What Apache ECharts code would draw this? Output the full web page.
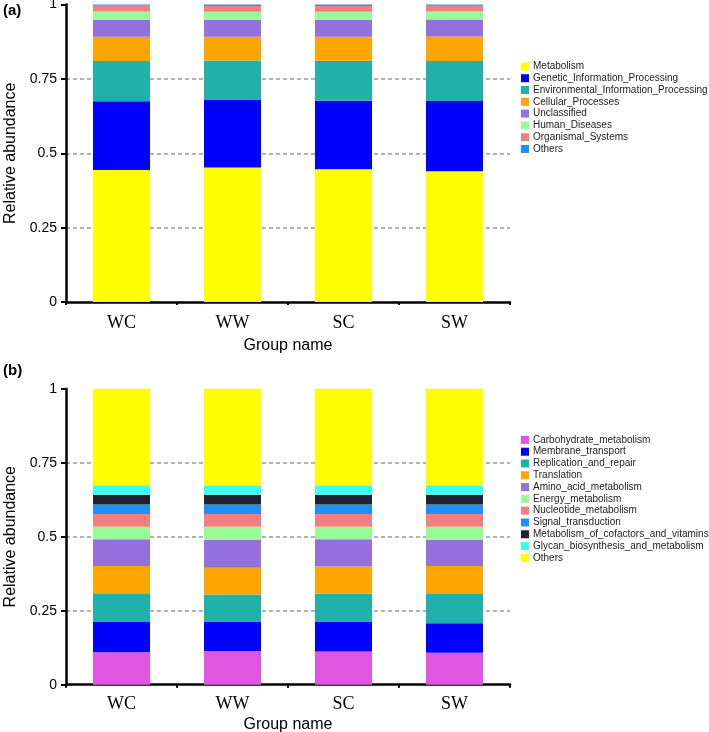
<!DOCTYPE html>
<html>
<head>
<meta charset="utf-8">
<script src="https://cdn.jsdelivr.net/npm/echarts@6/dist/echarts.min.js"></script>
<style>html,body{margin:0;padding:0;background:#fff;}#c{width:709px;height:732px;}</style>
</head>
<body>
<div id="c"></div>
<script>
// Categories (groups)
const groups = ['WC', 'WW', 'SC', 'SW'];

// Panel (a) level-1 categories (stack order bottom -> top)
const namesA = ['Metabolism', 'Genetic_Information_Processing', 'Environmental_Information_Processing',
  'Cellular_Processes', 'Unclassified', 'Human_Diseases', 'Organismal_Systems', 'Others'];
const colorsA = ['#FFFF00', '#0000FF', '#20B2AA', '#FFA500', '#9370DB', '#98FB98', '#F08080', '#1E90FF'];
const metabolism   = [0.444, 0.452, 0.446, 0.440];
const genetic      = [0.231, 0.227, 0.231, 0.236];
const environment  = [0.135, 0.133, 0.134, 0.134];
const cellular     = [0.082, 0.080, 0.081, 0.083];
const unclassified = [0.057, 0.057, 0.057, 0.057];
const human        = [0.028, 0.027, 0.027, 0.027];
const organismal   = [0.022, 0.019, 0.019, 0.019];
const othersA      = [0.001, 0.005, 0.005, 0.004];
const valuesA = [metabolism, genetic, environment, cellular, unclassified, human, organismal, othersA];

// Panel (b) level-2 categories (stack order bottom -> top)
const namesB = ['Carbohydrate_metabolism', 'Membrane_transport', 'Replication_and_repair', 'Translation',
  'Amino_acid_metabolism', 'Energy_metabolism', 'Nucleotide_metabolism', 'Signal_transduction',
  'Metabolism_of_cofactors_and_vitamins', 'Glycan_biosynthesis_and_metabolism', 'Others'];
const colorsB = ['#E056E0', '#0000FF', '#20B2AA', '#FFA500', '#9370DB', '#98FB98', '#F08080', '#1E90FF',
  '#22222E', '#3DFFEE', '#FFFF00'];
const carbohydrate = [0.110, 0.114, 0.112, 0.108];
const membrane     = [0.102, 0.098, 0.100, 0.100];
const replication  = [0.097, 0.093, 0.096, 0.098];
const translation  = [0.092, 0.090, 0.091, 0.095];
const aminoAcid    = [0.090, 0.095, 0.092, 0.089];
const energy       = [0.043, 0.044, 0.043, 0.044];
const nucleotide   = [0.043, 0.043, 0.043, 0.043];
const signal       = [0.032, 0.032, 0.032, 0.032];
const cofactors    = [0.033, 0.033, 0.033, 0.033];
const glycan       = [0.032, 0.032, 0.032, 0.032];
const othersB      = [0.326, 0.326, 0.326, 0.326];
const valuesB = [carbohydrate, membrane, replication, translation, aminoAcid, energy, nucleotide,
  signal, cofactors, glycan, othersB];

// Axis tick settings
const yMin = 0, yMax = 1, yInterval = 0.25;

const chart = echarts.init(document.getElementById('c'), null, {renderer: 'canvas'});

function makeY(gridIndex) {
  return {
    type: 'value', gridIndex: gridIndex, min: yMin, max: yMax, interval: yInterval,
    name: 'Relative abundance', nameLocation: 'middle', nameGap: 44,
    nameTextStyle: {fontFamily: 'Liberation Sans', fontSize: 16, color: '#000'},
    axisLine: {show: true, lineStyle: {color: '#000', width: 2.5}},
    axisTick: {show: true, length: 5, lineStyle: {color: '#000', width: 2}},
    axisLabel: {fontFamily: 'Liberation Sans', fontSize: 14, color: '#000', margin: 9},
    splitLine: {show: true, showMinLine: false, showMaxLine: false,
      lineStyle: {color: '#999', type: [4, 3], width: 1.5}}
  };
}
function makeX(gridIndex, gap, margin) {
  return {
    type: 'category', gridIndex: gridIndex, data: groups,
    name: 'Group name', nameLocation: 'middle', nameGap: gap,
    nameTextStyle: {fontFamily: 'Liberation Sans', fontSize: 16, color: '#000'},
    axisLine: {show: true, lineStyle: {color: '#000', width: 2.5}},
    axisTick: {show: true, length: 3, lineStyle: {color: '#000', width: 2}},
    axisLabel: {fontFamily: 'Liberation Serif', fontSize: 18, color: '#000', margin: margin},
    splitLine: {show: false}
  };
}

const series = [];
namesA.forEach((n, i) => series.push({
  name: n, type: 'bar', stack: 'a', xAxisIndex: 0, yAxisIndex: 0, barWidth: 57,
  itemStyle: {color: colorsA[i]}, data: valuesA[i], emphasis: {disabled: true}
}));
namesB.forEach((n, i) => series.push({
  name: n, type: 'bar', stack: 'b', xAxisIndex: 1, yAxisIndex: 1, barWidth: 57,
  itemStyle: {color: colorsB[i]}, data: valuesB[i], emphasis: {disabled: true}
}));

const legendCommon = {
  orient: 'vertical', left: 521, padding: 0, itemWidth: 8, itemHeight: 8, itemGap: 0,
  icon: 'rect', selectedMode: false,
  textStyle: {fontFamily: 'Liberation Sans', fontSize: 10, color: '#222', lineHeight: 11.8, padding: [0, 0, 0, -1]}
};

chart.setOption({
  animation: false,
  backgroundColor: '#fff',
  title: [
    {text: '(a)', left: 3, top: 3, padding: 0, textStyle: {fontFamily: 'Liberation Sans', fontSize: 15, fontWeight: 'bold', color: '#000'}},
    {text: '(b)', left: 3, top: 363, padding: 0, textStyle: {fontFamily: 'Liberation Sans', fontSize: 15, fontWeight: 'bold', color: '#000'}}
  ],
  grid: [
    {left: 66, top: 4.6, width: 444, height: 297.4, containLabel: false, outerBoundsMode: 'none'},
    {left: 66, top: 388.7, width: 444, height: 296, containLabel: false, outerBoundsMode: 'none'}
  ],
  xAxis: [makeX(0, 36, 12), makeX(1, 32, 11)],
  yAxis: [makeY(0), makeY(1)],
  legend: [
    Object.assign({}, legendCommon, {top: 60.5, data: namesA.map((n, i) => ({name: n, itemStyle: {color: colorsA[i]}}))}),
    Object.assign({}, legendCommon, {top: 434, data: namesB.map((n, i) => ({name: n, itemStyle: {color: colorsB[i]}}))})
  ],
  series: series
});
</script>
</body>
</html>
